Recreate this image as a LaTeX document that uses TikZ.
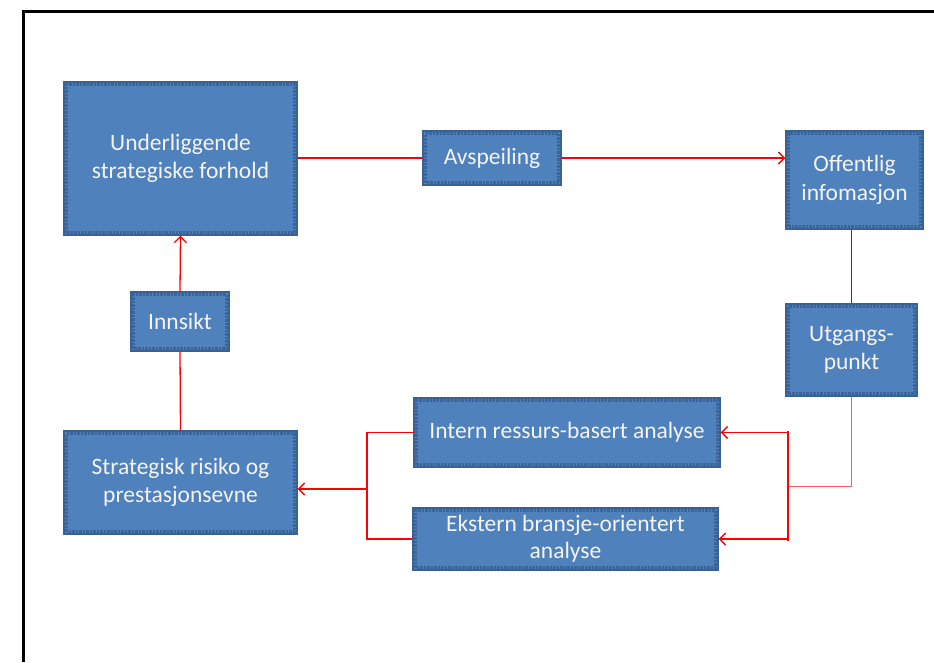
\documentclass[tikz,border=0pt]{standalone}
\usepackage{fontspec}
\setmainfont{Carlito}
\usetikzlibrary{arrows.meta}
\definecolor{boxfill}{HTML}{4F81BD}
\definecolor{boxedge}{HTML}{3A6193}
\definecolor{boxdot}{HTML}{3B659A}
\definecolor{boxtext}{HTML}{F4F4F4}
\definecolor{flow}{HTML}{FF0000}
\definecolor{flowdark}{HTML}{D00000}
\definecolor{flowlight}{HTML}{FF5A5A}
\begin{document}
\begin{tikzpicture}[x=1pt,y=-1pt,
  box/.style={draw=boxedge, line width=1.4pt, fill=boxfill, text=boxtext,
    align=center, inner sep=0pt, font=\fontsize{23.5}{28.5}\selectfont,
    path picture={\draw[boxdot, densely dotted, line width=2.5pt]
      ([shift={(2.5pt,2.5pt)}]path picture bounding box.south west) rectangle
      ([shift={(-2.5pt,-2.5pt)}]path picture bounding box.north east);}},
  flowline/.style={draw=flow, line width=1.3pt},
  tip/.style={-{Straight Barb[length=6pt,width=12pt]}}
]
\useasboundingbox (0,0) rectangle (934,662);

% outer frame (open to the right and bottom)
\draw[line width=3pt] (23,662) -- (23,11) -- (934,11);

% boxes
\node[box, minimum width=233pt, minimum height=153pt] (under) at (180.5,158.5) {Underliggende\\strategiske forhold};
\node[box, minimum width=138pt, minimum height=54pt] (avsp) at (492,158) {Avspeiling};
\node[box, minimum width=137pt, minimum height=98pt] (offi) at (854.5,180) {Offentlig\\infomasjon};
\node[box, minimum width=131pt, minimum height=92pt] (utg) at (851.5,350) {Utgangs-\\punkt};
\node[box, minimum width=98pt, minimum height=59pt] (inns) at (180,321.5) {Innsikt};
\node[box, minimum width=233pt, minimum height=103pt] (risk) at (180.5,482.5) {Strategisk risiko og\\prestasjonsevne};
\node[box, minimum width=306pt, minimum height=69pt] (intern) at (567,432.5) {Intern ressurs-basert analyse};
\node[box, minimum width=305pt, minimum height=62pt, font=\fontsize{23.5}{27}\selectfont] (ekstern) at (565.5,539) {Ekstern bransje-orientert\\analyse};

% bus points
\coordinate (rbus) at (788,486);
\coordinate (rtop) at (788,431);
\coordinate (rbot) at (788,541);
\coordinate (lbus) at (367,489);

% top row
\draw[flowline] (avsp.west) -- (avsp.west -| under.east);
\draw[flowline, tip] (avsp.east) -- (avsp.east -| offi.west);

% right column
\draw[flowdark, line width=1.2pt] (utg.north |- offi.south) -- (utg.north);
\draw[flowlight, line width=1pt] (utg.south) |- (rbus);
\draw[flow, line width=2.5pt] (rtop) -- (rbot);
\draw[flowline, tip] (rtop |- intern.east) -- (intern.east);
\draw[flowline, tip] (rbot |- ekstern.east) -- (ekstern.east);

% left merge
\draw[flowline] (intern.west) -| (lbus) |- (ekstern.west);
\draw[flowline, tip] (lbus) -- (lbus -| risk.east);

% left column
\draw[flowline] (risk.north) -- (inns.south);
\draw[flowline, tip] (inns.north) -- (under.south);
\end{tikzpicture}
\end{document}
